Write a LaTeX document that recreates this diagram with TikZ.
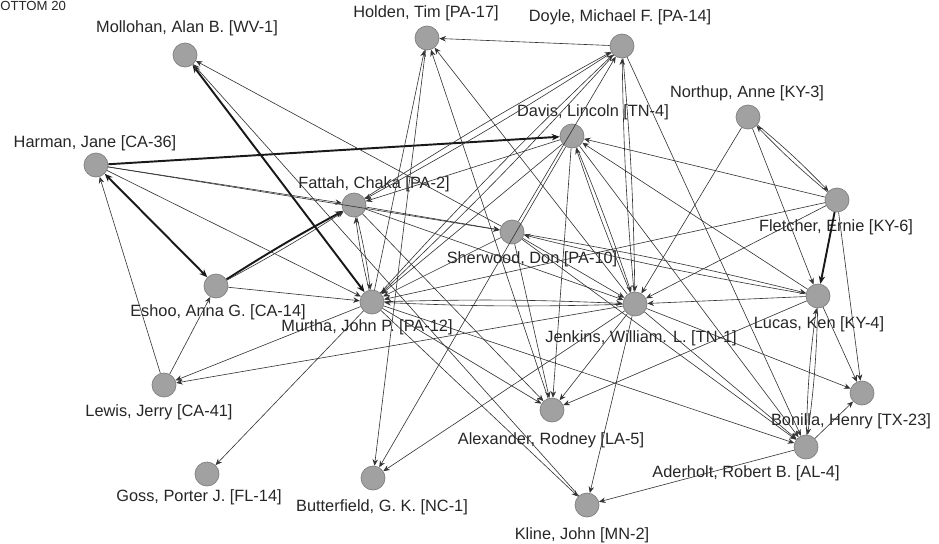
\documentclass[tikz,border=0pt]{standalone}
\usepackage{fontspec}
\setmainfont{Liberation Sans}
\usetikzlibrary{arrows.meta}

\begin{document}
\begin{tikzpicture}[
  x=0.2mm, y=-0.2mm,
  member/.style={circle,draw=black!50,fill=black!37,line width=0.4pt,minimum size=4.8mm,inner sep=0pt},
  tagtext/.style={font=\fontsize{9.3}{11}\selectfont,text=black!85,inner sep=0pt},
  link/.style={-{Stealth[length=1.3mm,width=1.1mm]},line width=0.35pt,draw=black!80},
  heavy/.style={-{Stealth[length=1.6mm,width=1.3mm]},line width=1.1pt,draw=black!90},
  both/.style={{Stealth[length=1.6mm,width=1.3mm]}-{Stealth[length=1.6mm,width=1.3mm]}}
]
  \useasboundingbox (0,0) rectangle (939,543);
  \node[tagtext,anchor=north west,font=\fontsize{7.5}{8}\selectfont] (corner) at (0,1) {OTTOM 20};

  % Members (circles) and their names
  \node[member] (mollohan)   at (185,55)  {};
  \node[member] (holden)     at (427,38)  {};
  \node[member] (doyle)      at (622,46)  {};
  \node[member] (northup)    at (748,117) {};
  \node[member] (davis)      at (572,136) {};
  \node[member] (harman)     at (96,165)  {};
  \node[member] (fattah)     at (354,205) {};
  \node[member] (fletcher)   at (837,200) {};
  \node[member] (sherwood)   at (512,232) {};
  \node[member] (eshoo)      at (216,286) {};
  \node[member] (murtha)     at (372,302) {};
  \node[member] (jenkins)    at (635,304) {};
  \node[member] (lucas)      at (818,296) {};
  \node[member] (lewis)      at (164,385) {};
  \node[member] (bonilla)    at (862,393) {};
  \node[member] (alexander)  at (552,410) {};
  \node[member] (aderholt)   at (806,447) {};
  \node[member] (goss)       at (207,474) {};
  \node[member] (butterfield) at (373,478) {};
  \node[member] (kline)      at (587,505) {};

  \node[tagtext] (mollohan-l)   at (187,28)  {Mollohan, Alan B. [WV-1]};
  \node[tagtext] (holden-l)     at (426,13)  {Holden, Tim [PA-17]};
  \node[tagtext] (doyle-l)      at (620,17)  {Doyle, Michael F. [PA-14]};
  \node[tagtext] (northup-l)    at (747,93)  {Northup, Anne [KY-3]};
  \node[tagtext] (davis-l)      at (593,112) {Davis, Lincoln [TN-4]};
  \node[tagtext] (harman-l)     at (95,143)  {Harman, Jane [CA-36]};
  \node[tagtext] (fattah-l)     at (374,184) {Fattah, Chaka [PA-2]};
  \node[tagtext] (fletcher-l)   at (836,227) {Fletcher, Ernie [KY-6]};
  \node[tagtext] (sherwood-l)   at (532,259) {Sherwood, Don [PA-10]};
  \node[tagtext] (eshoo-l)      at (218,312) {Eshoo, Anna G. [CA-14]};
  \node[tagtext] (murtha-l)     at (367,327) {Murtha, John P. [PA-12]};
  \node[tagtext] (jenkins-l)    at (641,338) {Jenkins, William. L. [TN-1]};
  \node[tagtext] (lucas-l)      at (819,324) {Lucas, Ken [KY-4]};
  \node[tagtext] (lewis-l)      at (159,412) {Lewis, Jerry [CA-41]};
  \node[tagtext] (bonilla-l)    at (851,421) {Bonilla, Henry [TX-23]};
  \node[tagtext] (alexander-l)  at (551,440) {Alexander, Rodney [LA-5]};
  \node[tagtext] (aderholt-l)   at (746,473) {Aderholt, Robert B. [AL-4]};
  \node[tagtext] (goss-l)       at (199,497) {Goss, Porter J. [FL-14]};
  \node[tagtext] (butterfield-l) at (382,507) {Butterfield, G. K. [NC-1]};
  \node[tagtext] (kline-l)      at (582,535) {Kline, John [MN-2]};

  % heavy ties
  \draw[heavy] (harman) -- (davis);
  \draw[heavy,both] (harman) -- (eshoo);
  \draw[heavy] (eshoo) to[bend left=2] (fattah);
  \draw[link]  (eshoo) to[bend right=2] (fattah);
  \draw[heavy,both] (mollohan) -- (murtha);
  \draw[heavy] (fletcher) -- (lucas);

  % left side
  \draw[link] (sherwood) -- (mollohan);
  \draw[link] (kline) -- (mollohan);
  \draw[link] (harman) -- (fattah);
  \draw[link] (harman) -- (sherwood);
  \draw[link] (harman) -- (murtha);
  \draw[link] (lewis) -- (harman);
  \draw[link] (lewis) -- (eshoo);
  \draw[link] (murtha) -- (lewis);
  \draw[link] (jenkins) -- (lewis);
  \draw[link] (eshoo) -- (murtha);
  \draw[link] (murtha) -- (goss);

  % top
  \draw[link] (doyle) -- (holden);
  \draw[link] (murtha) -- (holden);
  \draw[link] (holden) -- (butterfield);
  \draw[link] (jenkins) -- (holden);
  \draw[link] (alexander) -- (holden);
  \draw[link] (fattah) to[bend left=2] (doyle);
  \draw[link] (doyle) to[bend left=2] (fattah);
  \draw[link] (murtha) to[bend left=2] (doyle);
  \draw[link] (doyle) to[bend left=2] (murtha);
  \draw[link] (sherwood) -- (doyle);
  \draw[link] (jenkins) to[bend left=2] (doyle);
  \draw[link] (doyle) to[bend left=2] (jenkins);
  \draw[link] (doyle) -- (aderholt);

  % Davis
  \draw[link] (fletcher) -- (davis);
  \draw[link] (lucas) -- (davis);
  \draw[link] (jenkins) to[bend left=2] (davis);
  \draw[link] (davis) to[bend left=2] (jenkins);
  \draw[link] (davis) -- (fattah);
  \draw[link] (davis) -- (murtha);
  \draw[link] (davis) -- (butterfield);
  \draw[link] (davis) -- (alexander);
  \draw[link] (davis) -- (aderholt);

  % Fattah, Sherwood, Murtha
  \draw[link] (fattah) to[bend left=3] (murtha);
  \draw[link] (murtha) to[bend left=3] (fattah);
  \draw[link] (fattah) -- (sherwood);
  \draw[link] (fattah) -- (jenkins);
  \draw[link] (fattah) -- (alexander);
  \draw[link] (sherwood) to[bend left=2] (lucas);
  \draw[link] (lucas) to[bend left=2] (sherwood);
  \draw[link] (sherwood) -- (jenkins);
  \draw[link] (sherwood) -- (murtha);
  \draw[link] (sherwood) -- (alexander);
  \draw[link] (sherwood) -- (aderholt);
  \draw[link] (murtha) -- (alexander);
  \draw[link] (murtha) -- (aderholt);
  \draw[link] (murtha) -- (kline);
  \draw[link] (fletcher) -- (murtha);

  % Jenkins
  \draw[link] (jenkins) to[bend left=2] (murtha);
  \draw[link] (murtha) to[bend left=2] (jenkins);
  \draw[link] (lucas) -- (jenkins);
  \draw[link] (fletcher) -- (jenkins);
  \draw[link] (northup) -- (jenkins);
  \draw[link] (jenkins) -- (alexander);
  \draw[link] (jenkins) -- (butterfield);
  \draw[link] (jenkins) -- (kline);
  \draw[link] (jenkins) -- (aderholt);
  \draw[link] (jenkins) -- (bonilla);

  % right side
  \draw[link] (northup) to[bend left=3] (fletcher);
  \draw[link] (fletcher) to[bend left=3] (northup);
  \draw[link] (northup) -- (lucas);
  \draw[link] (fletcher) -- (bonilla);
  \draw[link] (lucas) -- (bonilla);
  \draw[link] (lucas) -- (alexander);
  \draw[link] (lucas) to[bend left=3] (aderholt);
  \draw[link] (aderholt) to[bend left=3] (lucas);
  \draw[link] (aderholt) -- (bonilla);
  \draw[link] (aderholt) -- (kline);
\end{tikzpicture}
\end{document}
